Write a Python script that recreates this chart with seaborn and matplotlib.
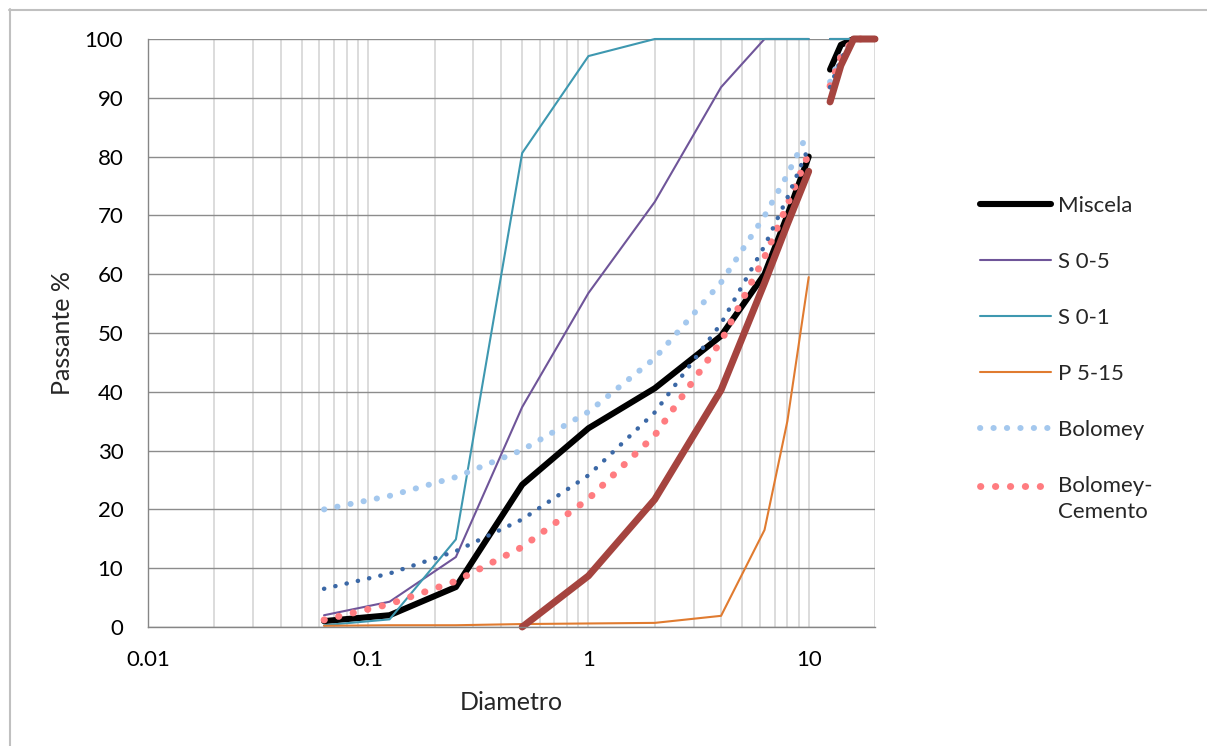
import numpy as np
import pandas as pd
import matplotlib
matplotlib.use("Agg")
import matplotlib.pyplot as plt
from matplotlib.lines import Line2D
from matplotlib.ticker import FixedLocator, FixedFormatter, LogLocator, NullFormatter
import seaborn as sns

nan = np.nan

# Sieve sizes (mm); the 11.2 row has no readings, which breaks every curve there
DIAMETRO = [0.063, 0.125, 0.25, 0.5, 1, 2, 4, 6.3, 8, 10, 11.2, 12.5, 14, 16, 20]

# Percent passing for each material / reference curve
miscela = [1.0, 2.0, 6.8, 24.2, 33.8, 40.6, 49.5, 60.0, 70.0, 80.0, nan, 94.8, 99.0, 100, 100]
s_0_5 = [2.0, 4.3, 11.9, 37.4, 56.8, 72.3, 91.8, 100, 100, 100, nan, 100, 100, 100, 100]
s_0_1 = [0.3, 1.3, 14.9, 80.6, 97.1, 100, 100, 100, 100, 100, nan, 100, 100, 100, 100]
p_5_15 = [0.2, 0.3, 0.3, 0.5, 0.6, 0.7, 1.9, 16.5, 35.0, 59.5, nan, 89.3, 95.5, 100, 100]
bolomey = [20.0, 22.3, 25.5, 30.1, 36.6, 45.7, 58.6, 69.9, 76.9, 84.3, nan, 92.7, 97.2, 100, 100]
bolomey_cemento = [1.2, 3.9, 7.8, 13.6, 21.8, 32.6, 48.6, 62.9, 71.8, 80.5, nan, 92.0, 97.0, 100, 100]
fuller = [6.5, 9.1, 12.9, 18.3, 25.8, 36.5, 51.6, 64.8, 73.0, 81.6, nan, 91.8, 96.6, 100, 100]
fuso_inferiore = [nan, nan, nan, 0.0, 8.7, 21.7, 40.3, 58.5, 68.5, 77.5, nan, 89.3, 95.5, 100, 100]

X_TICKS = [0.01, 0.1, 1, 10]
X_TICK_LABELS = ["0.01", "0.1", "1", "10"]
Y_TICKS = list(range(0, 101, 10))

sns.set_theme(style="white")
plt.rcParams["font.family"] = ["Lato", "DejaVu Sans"]

W, H = 1207, 746
fig = plt.figure(figsize=(W / 100, H / 100), dpi=100)
ax = fig.add_axes([148 / W, 1 - 627 / H, (875 - 148) / W, (627 - 39) / H])
ax.set_xscale("log")

solid = dict(solid_capstyle="round", solid_joinstyle="round")
serie = [
    ("Miscela", miscela, dict(color="#000000", linewidth=4.4, linestyle="-", **solid), True),
    ("S 0-5", s_0_5, dict(color="#6f5599", linewidth=1.5, linestyle="-", **solid), True),
    ("S 0-1", s_0_1, dict(color="#3e98b0", linewidth=1.5, linestyle="-", **solid), True),
    ("P 5-15", p_5_15, dict(color="#e07b30", linewidth=1.5, linestyle="-", **solid), True),
    ("Bolomey", bolomey, dict(color="#a4c8ee", linewidth=4.3, linestyle=(0, (0.05, 2.2)),
                              dash_capstyle="round"), True),
    ("Bolomey-\nCemento", bolomey_cemento, dict(color="#ff7c80", linewidth=5.0, linestyle=(0, (0.05, 2.1)),
                                               dash_capstyle="round"), True),
    ("Fuller", fuller, dict(color="#3b68a6", linewidth=3.2, linestyle=(0, (0.05, 2.55)),
                            dash_capstyle="round"), False),
    ("Fuso inferiore", fuso_inferiore, dict(color="#a5443f", linewidth=5.0, linestyle="-", **solid), False),
]

handles, labels = [], []
for nome, valori, stile, in_legenda in serie:
    df = pd.DataFrame({"Diametro": DIAMETRO, "Passante": valori})
    df["Tratto"] = df["Passante"].isna().cumsum()
    df = df.dropna()
    n0 = len(ax.lines)
    sns.lineplot(data=df, x="Diametro", y="Passante", units="Tratto", estimator=None,
                 sort=True, ax=ax, clip_on=False, **stile)
    if in_legenda:
        handles.append(ax.lines[n0])
        labels.append(nome)

ax.set_xlim(0.01, 20)
ax.set_ylim(0, 100)

ax.xaxis.set_major_locator(FixedLocator(X_TICKS))
ax.xaxis.set_major_formatter(FixedFormatter(X_TICK_LABELS))
ax.xaxis.set_minor_locator(LogLocator(base=10, subs=np.arange(2, 10)))
ax.xaxis.set_minor_formatter(NullFormatter())
ax.set_yticks(Y_TICKS)

axis_grey = "#868686"
ax.tick_params(axis="both", which="major", direction="out", length=5.8, width=1,
               color=axis_grey, labelsize=16, labelcolor="#000000")
ax.tick_params(axis="x", which="major", pad=11)
ax.tick_params(axis="y", which="major", pad=12)
ax.tick_params(axis="x", which="minor", length=0)

ax.grid(axis="y", which="major", color="#8c8c8c", linewidth=1.0)
ax.grid(axis="x", which="both", color="#d9d9d9", linewidth=1.3)
ax.set_axisbelow(True)

for side in ("top", "right"):
    ax.spines[side].set_visible(False)
for side in ("left", "bottom"):
    ax.spines[side].set_color(axis_grey)
    ax.spines[side].set_linewidth(1.0)

ax.set_xlabel("Diametro", fontsize=18, labelpad=15)
ax.set_ylabel("Passante %", fontsize=18, labelpad=8)

leg = ax.legend(handles, labels, loc="upper left", bbox_to_anchor=(980 / W, 1 - 196 / H),
                bbox_transform=fig.transFigure, frameon=False, fontsize=16,
                handlelength=3.2, handletextpad=0.3, labelspacing=1.62,
                borderpad=0, borderaxespad=0)
for t in leg.get_texts():
    t.set_linespacing(1.4)
# the two-line entry keeps its marker level with the first line of text
lh = leg.legend_handles[-1]
lh.set_ydata([v + 10 for v in lh.get_ydata()])

# outer chart border
border = dict(transform=fig.transFigure, color="#c0c0c0", linewidth=1.5)
fig.add_artist(Line2D([9 / W, 1], [1 - 9.5 / H, 1 - 9.5 / H], **border))
fig.add_artist(Line2D([9.5 / W, 9.5 / W], [0, 1 - 9 / H], **border))

fig.savefig("out.png", dpi=100)
